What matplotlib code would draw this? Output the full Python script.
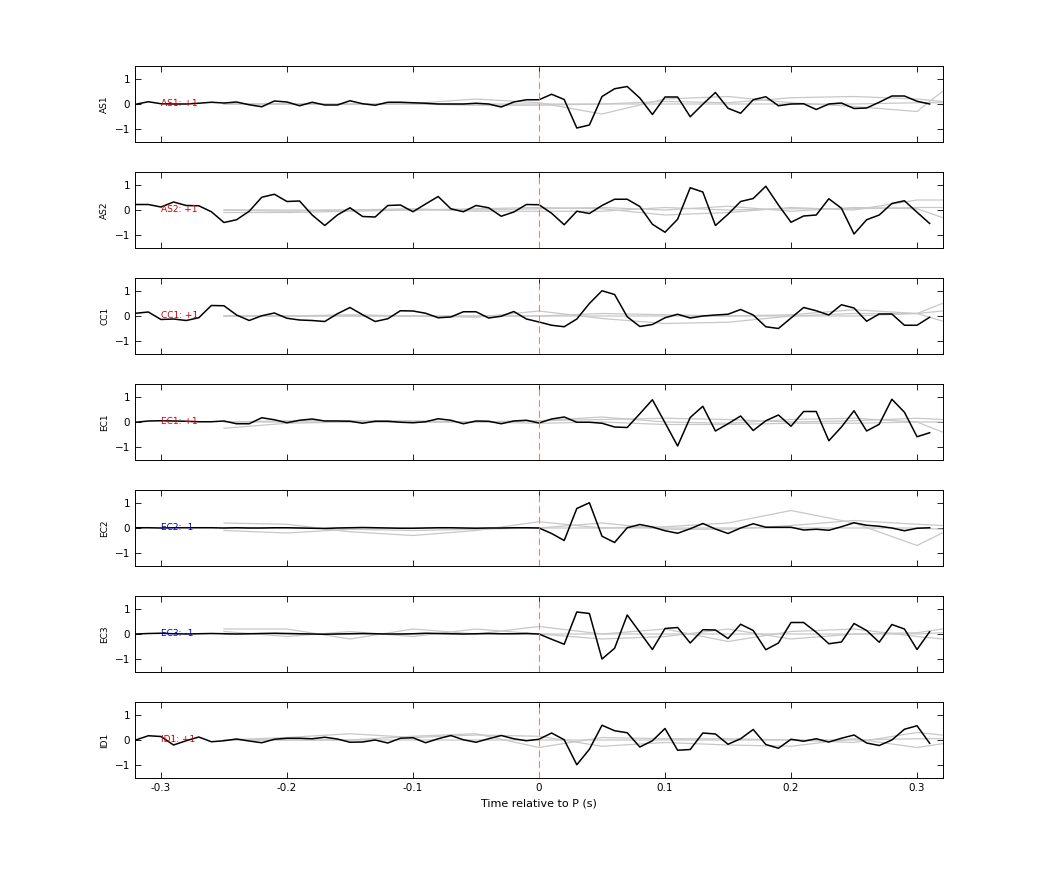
import numpy as np
import matplotlib
matplotlib.use("Agg")
import matplotlib.pyplot as plt

# stations and the polarity labels shown at the left of each trace
stations = ["AS1", "AS2", "CC1", "EC1", "EC2", "EC3", "ID1"]
polarity = ["+1", "+1", "+1", "+1", "-1", "-1", "+1"]

# black traces, sampled every 0.01 s starting at -0.32 s
t0 = -0.32
dt = 0.01

as1 = [-0.01, 0.09, 0.01, 0, 0, 0.03, 0.07, 0.04, 0.08, -0.03, -0.11, 0.12, 0.08, -0.07, 0.07, -0.04,
       -0.04, 0.13, 0.01, -0.05, 0.07, 0.07, 0.05, 0.03, 0, 0, 0, 0.03, 0, -0.12, 0.08, 0.17,
       0.17, 0.39, 0.18, -0.96, -0.84, 0.30, 0.61, 0.70, 0.24, -0.42, 0.28, 0.28, -0.51, -0.01, 0.46, -0.17,
       -0.37, 0.17, 0.29, -0.07, 0, 0.01, -0.22, 0, 0.04, -0.18, -0.16, 0.07, 0.32, 0.32, 0.11, 0]
as2 = [0.22, 0.22, 0.12, 0.32, 0.18, 0.17, -0.07, -0.5, -0.39, -0.05, 0.51, 0.63, 0.34, 0.36, -0.2, -0.62,
       -0.2, 0.09, -0.26, -0.28, 0.18, 0.2, -0.07, 0.24, 0.54, 0.05, -0.07, 0.18, 0.09, -0.25, -0.08, 0.22,
       0.21, -0.13, -0.59, -0.05, -0.14, 0.18, 0.43, 0.43, 0.14, -0.57, -0.89, -0.37, 0.89, 0.72, -0.62, -0.17,
       0.34, 0.46, 0.95, 0.2, -0.49, -0.24, -0.2, 0.45, 0.07, -0.96, -0.39, -0.2, 0.26, 0.37, -0.09, -0.54]
cc1 = [0.11, 0.16, -0.14, -0.12, -0.18, -0.07, 0.42, 0.41, 0.04, -0.18, 0.01, 0.12, -0.09, -0.16, -0.18, -0.22,
       0.09, 0.34, 0.05, -0.22, -0.11, 0.21, 0.2, 0.11, -0.07, -0.04, 0.17, 0.17, -0.08, -0.01, 0.18, -0.12,
       -0.24, -0.37, -0.43, -0.12, 0.5, 1.01, 0.86, -0.03, -0.42, -0.34, -0.07, 0.07, -0.08, 0, 0.04, 0.07,
       0.26, 0.04, -0.43, -0.5, -0.08, 0.34, 0.21, 0.04, 0.45, 0.32, -0.21, 0.08, 0.08, -0.37, -0.37, -0.05]
ec1 = [-0.01, 0.04, 0.05, 0.04, 0.03, 0.01, 0.01, 0.04, -0.07, -0.07, 0.17, 0.09, -0.03, 0.07, 0.12, 0.04,
       0.04, 0.03, -0.05, 0.03, 0.03, -0.01, -0.03, 0.01, 0.13, 0.07, -0.07, 0.04, 0.03, -0.07, 0.04, 0.07,
       -0.04, 0.12, 0.2, -0.01, -0.01, -0.05, -0.2, -0.22, 0.33, 0.89, -0.03, -0.96, 0.18, 0.63, -0.36, -0.07,
       0.24, -0.34, 0.05, 0.28, -0.17, 0.42, 0.42, -0.75, -0.2, 0.45, -0.36, -0.09, 0.91, 0.39, -0.59, -0.43]
ec2 = [0.01, 0.01, 0, 0.01, 0.01, 0.01, 0.01, 0, 0.01, 0, 0, 0.01, 0.01, 0, -0.01, -0.02,
       0, 0.01, 0.02, 0.01, 0, -0.01, -0.01, 0, 0.01, 0.01, 0, -0.01, 0, 0, 0.01, 0.01,
       0, -0.22, -0.5, 0.78, 1.01, -0.33, -0.58, 0.01, 0.14, 0.04, -0.11, -0.21, -0.03, 0.18, -0.04, -0.22,
       0, 0.17, 0.03, 0.03, 0.03, -0.08, -0.05, -0.09, 0.05, 0.21, 0.11, 0.07, 0, -0.11, -0.01, 0.01]
ec3 = [0, 0.02, 0.03, 0.01, 0, 0.01, 0.02, 0.01, 0, 0.01, 0.02, 0.03, 0.02, 0.01, 0, -0.01,
       0, 0.01, 0.02, 0.01, 0, 0, 0.01, 0.03, 0.02, 0.01, 0, 0.01, 0.02, 0.01, 0.01, 0.02,
       0, -0.21, -0.41, 0.88, 0.82, -1.0, -0.57, 0.76, 0.07, -0.62, 0.22, 0.26, -0.36, 0.17, 0.16, -0.18,
       0.39, 0.14, -0.63, -0.36, 0.46, 0.46, 0.07, -0.39, -0.32, 0.42, 0.14, -0.33, 0.38, 0.2, -0.62, 0.09]
id1 = [0, 0.17, 0.14, -0.2, -0.03, 0.12, -0.07, -0.03, 0.04, -0.04, -0.11, 0.03, 0.07, 0.07, 0.05, 0.11,
       0.04, -0.09, -0.08, 0, -0.12, 0.07, 0.09, -0.11, 0.05, 0.18, 0.01, -0.09, 0.05, 0.18, 0.05, -0.03,
       0.03, 0.28, 0.01, -0.99, -0.37, 0.59, 0.37, 0.29, -0.28, -0.03, 0.46, -0.41, -0.38, 0.28, 0.24, -0.17,
       0.05, 0.42, -0.18, -0.33, 0.03, -0.05, 0.05, -0.08, 0.07, 0.2, -0.12, -0.22, 0, 0.43, 0.57, -0.13]
traces = [as1, as2, cc1, ec1, ec2, ec3, id1]

# grey synthetic traces, rough values every 0.05 s from -0.25 to 0.30, then 0.32
grey_t = [-0.25, -0.2, -0.15, -0.1, -0.05, 0.0, 0.05, 0.1, 0.15, 0.2, 0.25, 0.3, 0.32]
grey = [
    [[0, 0, 0, 0.02, 0.2, 0.05, -0.4, 0.2, 0.3, 0.05, -0.1, -0.3, 0.5],
     [0, 0, -0.02, 0, -0.05, -0.05, 0, 0.1, 0.05, 0.25, 0.3, 0.2, 0.1],
     [0, 0, 0, 0, 0, 0, 0, 0, 0, 0, 0, 0.05, 0.05]],
    [[-0.1, -0.1, -0.05, 0, 0.05, 0.1, 0.05, -0.2, -0.1, 0.1, 0, 0.4, 0.4],
     [0, 0, 0, 0, 0, 0.05, 0.1, 0, 0.15, -0.05, 0.1, 0.05, -0.3],
     [0, -0.05, 0, 0.05, -0.05, -0.05, -0.05, 0.1, 0, 0.05, 0.05, 0.1, 0.1]],
    [[0, 0, 0.05, 0, -0.05, 0.2, -0.1, -0.3, -0.25, 0, 0.1, 0.1, 0.5],
     [0, 0, 0, 0, 0, 0, 0.1, 0.05, 0, 0.05, 0.25, 0.1, -0.2],
     [0, 0, 0, 0, 0, 0, 0, 0, 0, 0, 0, 0.1, 0.2]],
    [[-0.25, -0.05, 0, 0, 0, 0.05, 0.2, 0, -0.05, 0.1, 0.15, 0, -0.4],
     [0, 0.05, 0.05, 0.05, 0, 0.05, 0.1, 0.15, 0.1, 0, 0.05, 0.15, 0.1],
     [0, 0, 0, 0, 0, -0.05, 0, -0.1, -0.1, -0.05, -0.05, 0, 0]],
    [[0.2, 0.15, -0.15, -0.3, -0.1, 0.25, 0, 0.05, 0.2, 0.7, 0.2, -0.7, -0.2],
     [-0.1, -0.2, -0.05, -0.1, -0.05, 0, 0.2, -0.05, -0.05, 0.1, 0.3, 0.15, 0.1],
     [0, 0, 0, 0, 0, 0, 0, 0, 0, 0, 0, 0, -0.05]],
    [[0.2, 0.2, -0.2, 0.2, 0, 0.3, 0, 0.2, -0.3, 0.1, 0.2, -0.1, -0.2],
     [0.1, -0.1, 0.1, -0.1, 0.2, 0, -0.2, -0.1, 0.2, -0.2, 0, 0.05, 0.2],
     [0, 0, 0, 0, 0, 0, 0, 0, 0, 0, 0, 0, 0.05]],
    [[0, 0.1, 0.25, 0.1, 0.2, 0.15, -0.25, -0.1, -0.2, -0.25, 0.05, -0.3, -0.15],
     [0, 0, 0, 0.15, 0.25, -0.3, 0.1, 0.05, 0.05, 0, -0.1, 0.3, 0.2],
     [0, 0, 0, 0, 0, 0, 0, 0, 0, 0, 0, 0.05, 0.05]],
]

W, H = 1042, 875
fig = plt.figure(figsize=(W / 100, H / 100), dpi=100)
left, right = 135 / W, 943 / W
tops = [66, 172, 278, 384, 490, 596, 702]
ax_h = 76

for k, (name, pol, tr, gr) in enumerate(zip(stations, polarity, traces, grey)):
    ax = fig.add_axes([left, 1 - (tops[k] + ax_h) / H, right - left, ax_h / H])
    for g in gr:
        ax.plot(grey_t, g, color="#c8c8c8", lw=0.9)
    t = t0 + dt * np.arange(len(tr))
    ax.plot(t, tr, color="black", lw=1.1)
    ax.axvline(0, color="#e08080", lw=0.7, ls=(0, (7, 4)))
    col = "#cc0000" if pol == "+1" else "#0000cc"
    ax.text(-0.30, 0, f"{name}: {pol}", color=col, fontsize=6.5, va="center", ha="left")
    ax.set_xlim(-0.3206, 0.3206)
    ax.set_ylim(-1.52, 1.52)
    ax.set_yticks([-1, 0, 1])
    ax.set_xticks([-0.3, -0.2, -0.1, 0, 0.1, 0.2, 0.3])
    ax.tick_params(direction="in", top=True, right=True, labelsize=7.5, length=4, width=0.6)
    ax.set_ylabel(name, fontsize=6.5)
    for s in ax.spines.values():
        s.set_linewidth(0.7)
    if k < len(stations) - 1:
        ax.set_xticklabels([])
    else:
        ax.set_xticklabels(["-0.3", "-0.2", "-0.1", "0", "0.1", "0.2", "0.3"])
        ax.set_xlabel("Time relative to P (s)", fontsize=8)

fig.savefig("out.png", dpi=100)
